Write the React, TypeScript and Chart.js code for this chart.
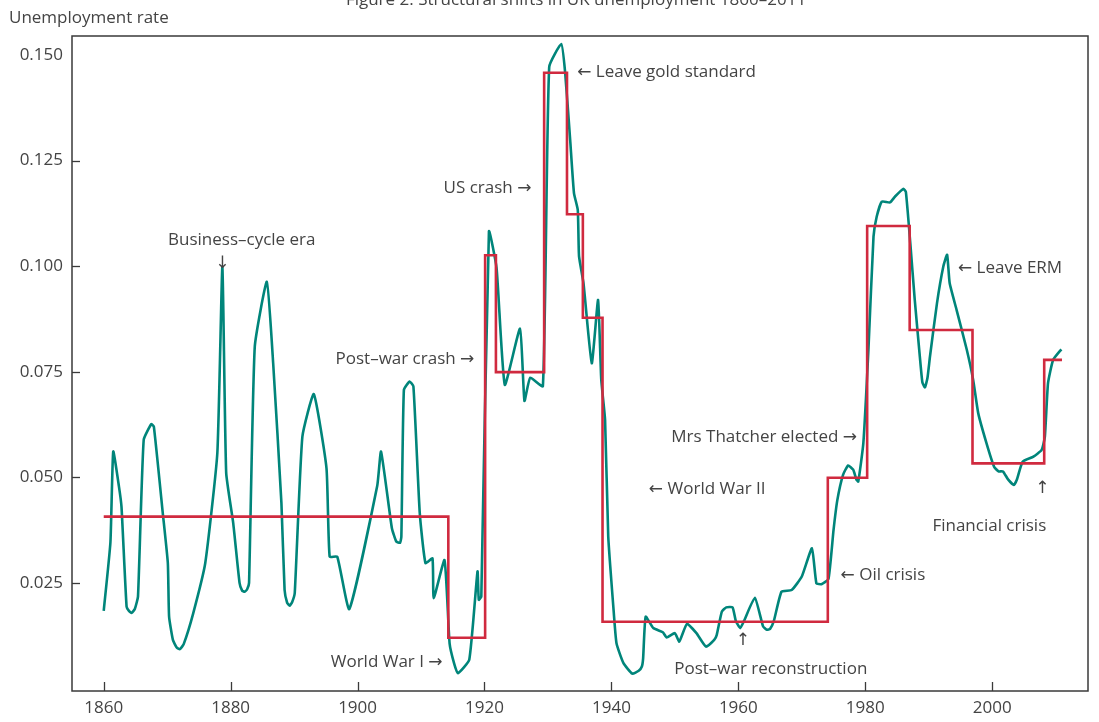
import { useEffect, useRef } from "react";
import { Chart, registerables } from "chart.js";

Chart.register(...registerables);

// ---- Data ----
const lineYears = [
  1860.0, 1861.05, 1861.5, 1862.4, 1862.8, 1863.6, 1864.0, 1864.4, 1864.9, 1865.4,
  1866.3, 1867.5, 1867.9, 1869.3, 1870.1, 1870.3, 1870.9, 1871.5, 1872.0, 1872.6,
  1874.1, 1876.0, 1877.9, 1878.7, 1879.3, 1880.4, 1881.4, 1881.8, 1882.2, 1882.6,
  1882.9, 1883.8, 1885.7, 1886.7, 1888.0, 1888.5, 1888.9, 1889.3, 1889.7, 1890.1,
  1891.3, 1893.1, 1895.1, 1895.6, 1896.8, 1898.7, 1903.1, 1903.7, 1905.4, 1906.1,
  1906.7, 1906.9, 1907.3, 1908.2, 1908.8, 1909.8, 1910.7, 1911.8, 1912.0, 1913.7,
  1914.5, 1915.2, 1915.8, 1917.6, 1918.9, 1919.1, 1919.5, 1920.7, 1921.9, 1923.2,
  1925.6, 1926.3, 1927.2, 1929.2, 1930.2, 1932.1, 1932.7, 1933.5, 1934.1, 1934.7,
  1934.9, 1935.6, 1936.9, 1937.9, 1938.4, 1939.0, 1939.5, 1940.3, 1940.8, 1941.9,
  1943.3, 1944.3, 1944.8, 1945.0, 1945.4, 1946.6, 1948.1, 1948.7, 1950.0, 1950.7,
  1951.9, 1953.4, 1954.9, 1956.2, 1956.6, 1957.4, 1958.1, 1959.1, 1959.6, 1960.3,
  1960.9, 1962.6, 1963.9, 1964.5, 1965.0, 1965.6, 1966.8, 1968.4, 1970.0, 1971.6,
  1972.3, 1973.1, 1974.2, 1975.0, 1975.6, 1976.5, 1977.3, 1978.1, 1978.6, 1978.9,
  1979.7, 1980.5, 1981.3, 1981.8, 1982.6, 1983.9, 1984.7, 1986.0, 1986.4, 1987.1,
  1987.8, 1988.6, 1989.0, 1989.4, 1989.8, 1990.2, 1991.3, 1992.3, 1992.9, 1993.3,
  1994.4, 1996.0, 1997.0, 1997.8, 1999.1, 2000.3, 2001.0, 2001.7, 2002.5, 2003.4,
  2003.9, 2004.8, 2006.5, 2007.8, 2008.3, 2008.8, 2009.6, 2010.9,
];
const lineRates = [
  0.0184, 0.0345, 0.0561, 0.0478, 0.043, 0.0194, 0.0183, 0.0179, 0.0188, 0.0218,
  0.0589, 0.0626, 0.062, 0.0416, 0.0297, 0.017, 0.0115, 0.0097, 0.0093, 0.0105,
  0.0178, 0.0297, 0.0557, 0.0999, 0.051, 0.0392, 0.025, 0.0232, 0.0229, 0.0235,
  0.025, 0.0809, 0.0963, 0.077, 0.0439, 0.0233, 0.0203, 0.0196, 0.0205, 0.0226,
  0.0596, 0.0697, 0.0522, 0.0312, 0.0312, 0.0188, 0.048, 0.0561, 0.038, 0.0348,
  0.0345, 0.036, 0.0707, 0.0727, 0.0715, 0.0415, 0.0297, 0.0308, 0.0214, 0.0304,
  0.0107, 0.006, 0.0036, 0.0068, 0.0277, 0.021, 0.0218, 0.1082, 0.0996, 0.0719,
  0.0852, 0.0681, 0.0736, 0.0716, 0.1472, 0.1526, 0.146, 0.1299, 0.1173, 0.1133,
  0.1023, 0.096, 0.077, 0.092, 0.0731, 0.0636, 0.036, 0.0194, 0.0107, 0.006,
  0.0035, 0.0042, 0.0052, 0.0072, 0.017, 0.0143, 0.0133, 0.0121, 0.0131, 0.0111,
  0.0153, 0.0131, 0.0099, 0.0115, 0.0127, 0.0182, 0.0192, 0.0192, 0.016, 0.0143,
  0.016, 0.0215, 0.0147, 0.0139, 0.0141, 0.016, 0.0229, 0.0233, 0.0265, 0.0332,
  0.0249, 0.0247, 0.0259, 0.0375, 0.0446, 0.0506, 0.0528, 0.0518, 0.0495, 0.049,
  0.0581, 0.0802, 0.107, 0.1117, 0.1153, 0.1151, 0.1165, 0.1183, 0.1176, 0.1054,
  0.092, 0.0786, 0.0725, 0.0713, 0.0735, 0.0786, 0.0912, 0.0999, 0.1027, 0.096,
  0.0896, 0.0802, 0.0731, 0.0652, 0.0581, 0.0525, 0.0514, 0.0514, 0.0495, 0.0482,
  0.0495, 0.0537, 0.0549, 0.0565, 0.0596, 0.0723, 0.0778, 0.0803,
];

const stepYears = [1860, 1914.3, 1920.1, 1921.8, 1929.4, 1933.0, 1935.5, 1938.6, 1974.1, 1980.3, 1987.0, 1996.9, 2008.2, 2011.0];
const stepLevels = [0.0407, 0.012, 0.1026, 0.0749, 0.1458, 0.1123, 0.0878, 0.0158, 0.0499, 0.1095, 0.0849, 0.0533, 0.0778, 0.0778];

const xTickValues = [1860, 1880, 1900, 1920, 1940, 1960, 1980, 2000];
const yTickValues = [0.025, 0.05, 0.075, 0.1, 0.125, 0.15];

const annotationTexts = [
  "Business\u2013cycle era",
  "\u2193",
  "\u2190 Leave gold standard",
  "US crash \u2192",
  "Post\u2013war crash \u2192",
  "World War I \u2192",
  "Mrs Thatcher elected \u2192",
  "\u2190 World War II",
  "\u2190 Leave ERM",
  "\u2190 Oil crisis",
  "\u2191",
  "Post\u2013war reconstruction",
  "\u2191",
  "Financial crisis",
];
const annotationYears = [1881.75, 1878.7, 1934.6, 1927.4, 1918.4, 1913.4, 1978.7, 1945.9, 1994.6, 1976.1, 1960.7, 1949.9, 2007.9, 1999.55];
const annotationRates = [0.1062, 0.1008, 0.146, 0.1185, 0.078, 0.0063, 0.0596, 0.0473, 0.0996, 0.0268, 0.0115, 0.0046, 0.0475, 0.0385];
const annotationAligns = ["center", "center", "left", "right", "right", "right", "right", "left", "left", "left", "center", "left", "center", "center"];

const chartTitle = "Figure 2: Structural shifts in UK unemployment 1860\u20132011";
const yAxisTitle = "Unemployment rate";

const FONT = "'Open Sans', 'Noto Sans', 'DejaVu Sans', sans-serif";
const TEXT_COLOR = "#444444";
const TEAL = "#00857a";
const RED = "#d02a3f";

export default function App() {
  const canvasRef = useRef<HTMLCanvasElement | null>(null);

  useEffect(() => {
    const canvas = canvasRef.current;
    if (!canvas) return;

    const framePlugin = {
      id: "frameAndText",
      afterDatasetsDraw(chart: any) {
        const { ctx, chartArea, scales } = chart;
        const xs = scales.x;
        const ys = scales.y;
        ctx.save();
        // frame
        ctx.strokeStyle = "#3a3a3a";
        ctx.lineWidth = 1.5;
        ctx.strokeRect(chartArea.left, chartArea.top, chartArea.right - chartArea.left, chartArea.bottom - chartArea.top);
        // inward tick marks
        ctx.lineWidth = 1.3;
        xTickValues.forEach((v) => {
          const px = Math.round(xs.getPixelForValue(v)) + 0.5;
          ctx.beginPath();
          ctx.moveTo(px, chartArea.bottom);
          ctx.lineTo(px, chartArea.bottom - 9);
          ctx.stroke();
        });
        yTickValues.forEach((v) => {
          if (v >= 0.15) return;
          const py = Math.round(ys.getPixelForValue(v)) + 0.5;
          ctx.beginPath();
          ctx.moveTo(chartArea.left, py);
          ctx.lineTo(chartArea.left + 8, py);
          ctx.stroke();
        });
        // annotations
        ctx.fillStyle = TEXT_COLOR;
        ctx.font = `17px ${FONT}`;
        ctx.textBaseline = "middle";
        annotationTexts.forEach((t, i) => {
          ctx.textAlign = annotationAligns[i] as CanvasTextAlign;
          ctx.fillText(t, xs.getPixelForValue(annotationYears[i]), ys.getPixelForValue(annotationRates[i]));
        });
        // titles
        ctx.textAlign = "center";
        ctx.textBaseline = "alphabetic";
        ctx.fillText(chartTitle, 576, 5);
        ctx.textAlign = "left";
        ctx.textBaseline = "middle";
        ctx.fillText(yAxisTitle, 9, 18);
        ctx.restore();
      },
    };

    const chart = new Chart(canvas, {
      type: "line",
      data: {
        datasets: [
          {
            label: "Step",
            data: stepYears.map((x, i) => ({ x, y: stepLevels[i] })),
            borderColor: RED,
            borderWidth: 2.6,
            pointRadius: 0,
            stepped: "before",
            fill: false,
            order: 0,
          },
          {
            label: "Unemployment",
            data: lineYears.map((x, i) => ({ x, y: lineRates[i] })),
            borderColor: TEAL,
            borderWidth: 2.6,
            pointRadius: 0,
            tension: 0.15,
            fill: false,
            order: 1,
          },
        ],
      },
      options: {
        responsive: false,
        animation: false,
        layout: { padding: { left: 0, top: 36, right: 11, bottom: 0 } },
        plugins: { legend: { display: false }, tooltip: { enabled: false }, title: { display: false } },
        scales: {
          x: {
            type: "linear",
            min: 1855,
            max: 2015.1,
            grid: { display: false, drawTicks: false },
            border: { display: false },
            afterBuildTicks: (s: any) => {
              s.ticks = xTickValues.map((v) => ({ value: v }));
            },
            afterFit: (s: any) => {
              s.height = 31;
            },
            ticks: {
              autoSkip: false,
              maxRotation: 0,
              padding: 7,
              color: TEXT_COLOR,
              font: { family: FONT, size: 17 },
              callback: (v: any) => String(v),
            },
          },
          y: {
            type: "linear",
            min: -0.0006,
            max: 0.1545,
            grid: { display: false, drawTicks: false },
            border: { display: false },
            afterBuildTicks: (s: any) => {
              s.ticks = yTickValues.map((v) => ({ value: v }));
            },
            afterFit: (s: any) => {
              s.width = 72;
            },
            ticks: {
              autoSkip: false,
              padding: 9,
              color: TEXT_COLOR,
              font: { family: FONT, size: 17 },
              callback: (v: any) => Number(v).toFixed(3),
            },
          },
        },
      },
      plugins: [framePlugin],
    } as any);

    return () => chart.destroy();
  }, []);

  return (
    <div style={{ position: "absolute", left: 0, top: 0, width: 1099, height: 722, background: "#fff" }}>
      <canvas ref={canvasRef} width={1099} height={722} style={{ display: "block" }} />
    </div>
  );
}
